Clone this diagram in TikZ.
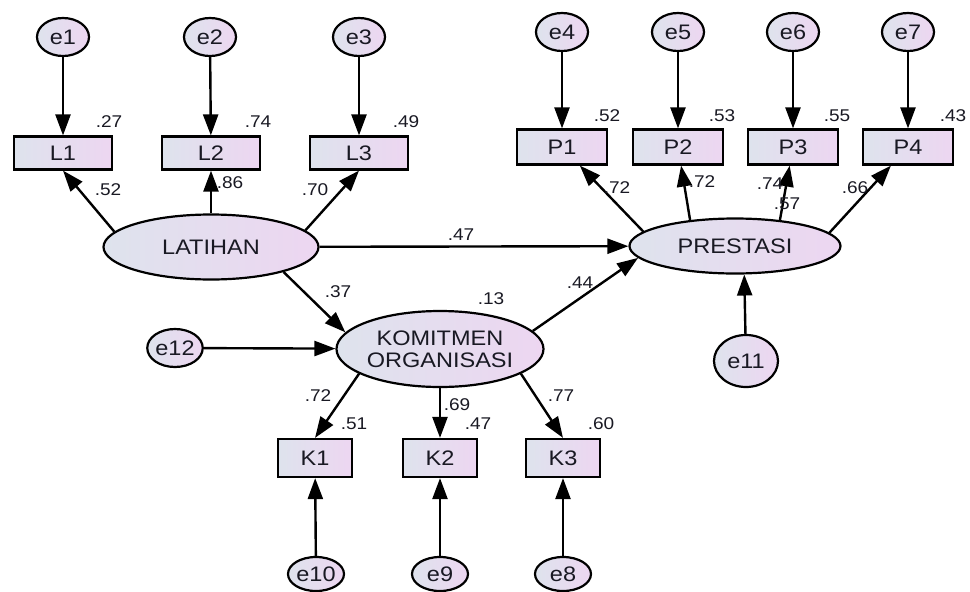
\documentclass[tikz,border=0pt]{standalone}
\usepackage{fontspec}
\setmainfont{Liberation Sans}[FakeStretch=1.12]
\usepackage{xcolor}
\usepackage{tikz}
\usetikzlibrary{shapes.geometric, arrows.meta, calc}
\definecolor{shadeleft}{RGB}{222, 227, 237}
\definecolor{shaderight}{RGB}{237, 214, 241}
\definecolor{inktext}{RGB}{25, 25, 35}

\begin{document}
\begin{tikzpicture}[
    x=1pt, y=-1pt,
    font=\fontsize{21}{23}\selectfont,
    % Define styles
    latent/.style = {ellipse, draw=black, line width=2.2pt, left color=shadeleft, right color=shaderight, text=inktext, inner sep=0pt, align=center},
    errvar/.style = {ellipse, draw=black, line width=2.2pt, left color=shadeleft, right color=shaderight, text=inktext, inner sep=0pt, minimum width=52pt, minimum height=38pt},
    lowerr/.style = {errvar, minimum width=56pt, minimum height=34pt},
    observed/.style = {rectangle, draw=black, line width=2.2pt, left color=shadeleft, right color=shaderight, text=inktext, inner sep=0pt},
    itemL/.style = {observed, minimum width=98pt, minimum height=33pt},
    itemP/.style = {observed, minimum width=90pt, minimum height=35pt},
    itemK/.style = {observed, minimum width=74pt, minimum height=38pt},
    effect/.style = {line width=2.4pt, draw=black, -{Triangle[length=21pt, width=15pt]}},
    est/.style = {font=\fontsize{17}{19}\selectfont, text=inktext, inner sep=0pt}
]
\useasboundingbox (0,0) rectangle (970,592);

% Latent variables
\node [latent, minimum width=215pt, minimum height=65pt] (lat) at (211,247) {LATIHAN};
\node [latent, minimum width=211pt, minimum height=55pt] (pres) at (735,246) {PRESTASI};
\node [latent, minimum width=207pt, minimum height=76pt] (kom) at (440,349) {KOMITMEN\\[-1pt]ORGANISASI};

% Indicators
\node [itemL] (L1) at (63,153) {L1};
\node [itemL] (L2) at (211,153) {L2};
\node [itemL] (L3) at (359,153) {L3};
\node [itemP] (P1) at (562,147) {P1};
\node [itemP] (P2) at (678,147) {P2};
\node [itemP] (P3) at (793,147) {P3};
\node [itemP] (P4) at (908,147) {P4};
\node [itemK] (K1) at (315,458) {K1};
\node [itemK] (K2) at (440,458) {K2};
\node [itemK] (K3) at (563,458) {K3};

% Error terms
\node [errvar] (e1) at (63,37) {e1};
\node [errvar] (e2) at (210,37) {e2};
\node [errvar] (e3) at (359,37) {e3};
\node [errvar] (e4) at (562,32) {e4};
\node [errvar] (e5) at (678,32) {e5};
\node [errvar] (e6) at (793,32) {e6};
\node [errvar] (e7) at (908,32) {e7};
\node [lowerr] (e10) at (316,574) {e10};
\node [lowerr] (e9) at (440,574) {e9};
\node [lowerr] (e8) at (563,574) {e8};
\node [errvar, minimum width=64pt, minimum height=52pt] (e11) at (746,361) {e11};
\node [errvar, minimum width=48pt, minimum height=38pt] (e12) at (175,348) {e12};

% Arrows
\draw [effect] (e1) -- (L1);
\draw [effect] (e2) -- (L2);
\draw [effect] (e3) -- (L3);
\draw [effect] (e4) -- (P1);
\draw [effect] (e5) -- (P2);
\draw [effect] (e6) -- (P3);
\draw [effect] (e7) -- (P4);
\draw [effect] (lat.171) -- (L1.south);
\draw [effect] (lat) -- (L2);
\draw [effect] (lat.10) -- (L3.south);
\draw [effect] (pres.171) -- (P1);
\draw [effect] (pres.150) -- (P2);
\draw [effect] (pres.30) -- (P3);
\draw [effect] (pres.8) -- (P4);
\draw [effect] (lat) -- (pres);
\draw [effect] (lat.341) -- (kom.170);
\draw [effect] (kom.11) -- (pres.187);
\draw [effect] (e12) -- (kom);
\draw [effect] (e11) -- (pres.-72);
\draw [effect] (kom.197) -- (K1.north);
\draw [effect] (kom) -- (K2);
\draw [effect] (kom.343) -- (K3.north);
\draw [effect] (e10) -- (K1);
\draw [effect] (e9) -- (K2);
\draw [effect] (e8) -- (K3);

% Estimates
\node [est] (r2L1) at (109,122) {.27};
\node [est] (r2L2) at (258,122) {.74};
\node [est] (r2L3) at (406,122) {.49};
\node [est] (wL1) at (108,190) {.52};
\node [est] (wL2) at (230,183) {.86};
\node [est] (wL3) at (315,190) {.70};
\node [est] (r2P1) at (607,116) {.52};
\node [est] (r2P2) at (722,116) {.53};
\node [est] (r2P3) at (837,116) {.55};
\node [est] (r2P4) at (953,116) {.43};
\node [est] (wP1) at (617,188) {.72};
\node [est] (wP2) at (702,182) {.72};
\node [est] (wP3) at (770,184) {.74};
\node [est] (r2pres) at (787,204) {.57};
\node [est] (wP4) at (855,188) {.66};
\node [est] (blp) at (461,235) {.47};
\node [est] (blk) at (338,292) {.37};
\node [est] (bkp) at (580,283) {.44};
\node [est] (r2kom) at (491,299) {.13};
\node [est] (wK1) at (318,396) {.72};
\node [est] (r2K1) at (354,424) {.51};
\node [est] (wK2) at (457,405) {.69};
\node [est] (r2K2) at (478,424) {.47};
\node [est] (wK3) at (561,396) {.77};
\node [est] (r2K3) at (601,424) {.60};

\end{tikzpicture}
\end{document}
